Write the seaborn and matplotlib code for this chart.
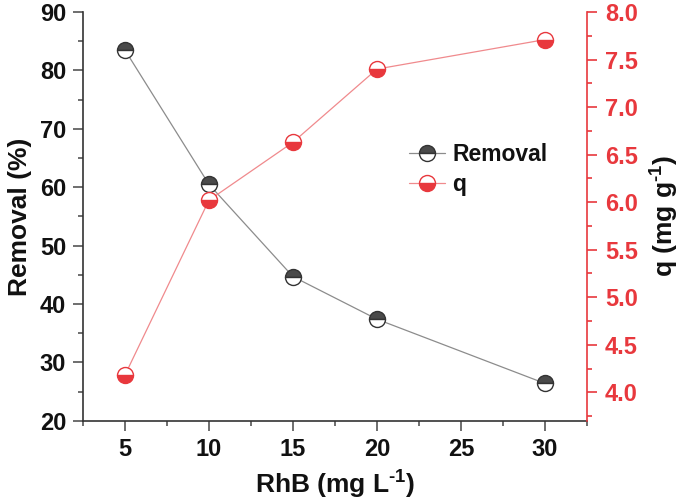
import pandas as pd
import seaborn as sns
import matplotlib.pyplot as plt
from matplotlib.ticker import MultipleLocator

# ---- Data ----
rhb = [5, 10, 15, 20, 30]
removal = [83.5, 60.5, 44.7, 37.4, 26.4]
q_vals = [4.18, 6.02, 6.63, 7.40, 7.71]

df = pd.DataFrame({"RhB": rhb, "Removal": removal, "q": q_vals})

RED = "#E8383D"
DARK = "#333333"
TXT = "#111111"

sns.set_style("ticks")
plt.rcParams["font.family"] = ["Liberation Sans", "DejaVu Sans"]
plt.rcParams["font.weight"] = "bold"
plt.rcParams["mathtext.fontset"] = "custom"
plt.rcParams["mathtext.bf"] = "Liberation Sans:bold"
plt.rcParams["mathtext.rm"] = "Liberation Sans:bold"
plt.rcParams["mathtext.default"] = "bf"

fig = plt.figure(figsize=(6.85, 5.01), dpi=100)
ax = fig.add_axes([0.121, 0.160, 0.736, 0.816])
ax2 = ax.twinx()

sns.lineplot(data=df, x="RhB", y="Removal", ax=ax, color="#8c8c8c", lw=0.9,
             marker="o", markersize=11.5, fillstyle="top",
             markerfacecolor="#4a4a4a", markerfacecoloralt="white",
             markeredgecolor=DARK, markeredgewidth=1.0, label="Removal", legend=False)
sns.lineplot(data=df, x="RhB", y="q", ax=ax2, color="#f08a8d", lw=0.9,
             marker="o", markersize=11.5, fillstyle="bottom",
             markerfacecolor=RED, markerfacecoloralt="white",
             markeredgecolor=RED, markeredgewidth=1.0, label="q", legend=False)

ax.set_xlim(2.5, 32.5)
ax.set_ylim(20, 90)
ax2.set_ylim(3.7, 8.0)
ax.xaxis.set_major_locator(MultipleLocator(5))
ax.xaxis.set_minor_locator(MultipleLocator(2.5))
ax.yaxis.set_major_locator(MultipleLocator(10))
ax.yaxis.set_minor_locator(MultipleLocator(5))
ax2.yaxis.set_major_locator(MultipleLocator(0.5))
ax2.yaxis.set_minor_locator(MultipleLocator(0.25))
ax2.yaxis.set_major_formatter(plt.FormatStrFormatter("%.1f"))

ax.set_xlabel(r"RhB (mg L$^{\text{-1}}$)", fontsize=19, fontweight="bold", color=TXT, labelpad=6)
ax.set_ylabel("Removal (%)", fontsize=19, fontweight="bold", color=TXT, labelpad=6)
ax2.set_ylabel(r"q (mg g$^{\text{-1}}$)", fontsize=19, fontweight="bold", color=TXT, labelpad=8)

ax.tick_params(axis="both", which="major", labelsize=17, length=7, width=1.2,
               color="#555555", labelcolor=TXT, direction="out", pad=5)
ax.tick_params(axis="both", which="minor", length=3.5, width=1.2, color="#555555", direction="out")
ax2.tick_params(axis="y", which="major", labelsize=17, length=7, width=1.2,
                color=RED, labelcolor=RED, pad=6)
ax2.tick_params(axis="y", which="minor", length=3.5, width=1.2, color=RED)
for lab in ax.get_xticklabels() + ax.get_yticklabels() + ax2.get_yticklabels():
    lab.set_fontweight("bold")

for a in (ax, ax2):
    a.spines["top"].set_visible(False)
ax.spines["left"].set_color(DARK)
ax.spines["bottom"].set_color(DARK)
ax.spines["right"].set_visible(False)
ax2.spines["left"].set_visible(False)
ax2.spines["bottom"].set_visible(False)
ax2.spines["right"].set_color(RED)
for s in ("left", "bottom"):
    ax.spines[s].set_linewidth(1.2)
ax2.spines["right"].set_linewidth(1.2)

h1, l1 = ax.get_legend_handles_labels()
h2, l2 = ax2.get_legend_handles_labels()
leg = ax2.legend(h1 + h2, l1 + l2, loc="upper left", bbox_to_anchor=(0.605, 0.73),
                 frameon=False, handlelength=1.6, handletextpad=0.3, labelspacing=0.3,
                 prop={"weight": "bold", "size": 16.5})
for t in leg.get_texts():
    t.set_color(TXT)

fig.savefig("out.png", dpi=100)
